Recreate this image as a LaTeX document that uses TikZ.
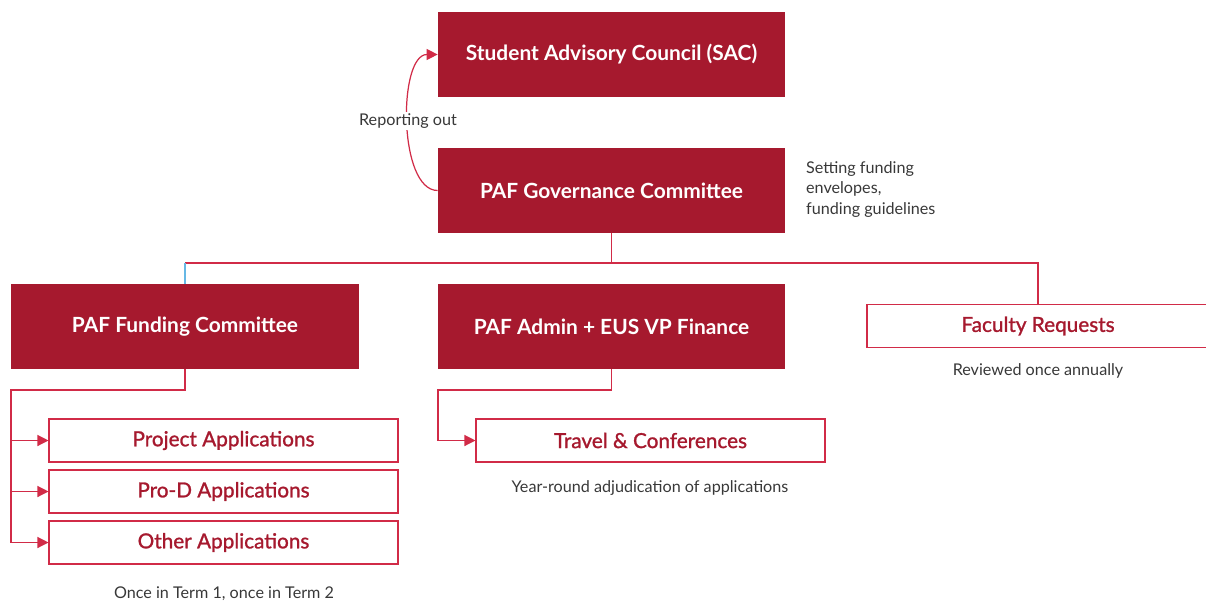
\documentclass[tikz,border=0pt]{standalone}
\usepackage{fontspec}
\setmainfont{Lato}
\newfontfamily\latomed[FakeBold=1.2]{Lato}
\usepackage{tikz}
\usetikzlibrary{arrows.meta}

\begin{document}
\begin{tikzpicture}[
	fullbox/.style={minimum width=6.94cm,minimum height=1.70cm,fill=cbox,draw=none,text=white,font=\bfseries\fontsize{11.9}{14}\selectfont,inner sep=0pt},
	linebox/.style={minimum width=6.98cm,minimum height=0.86cm,fill=white,draw=cline,line width=0.6pt,text=cbox,font=\latomed\fontsize{11.8}{14}\selectfont,inner sep=0pt},
	note/.style={text=cnote,font=\fontsize{9.2}{11.9}\selectfont,inner sep=1pt},
	link/.style={draw=cline,line width=0.7pt},
	tip/.style={-{Triangle[length=2.2mm,width=2.2mm]}}
	]
			\definecolor{cbox}{rgb}{0.65,0.10,0.18}
			\definecolor{cline}{rgb}{0.82,0.17,0.28}
			\definecolor{cnote}{rgb}{0.22,0.22,0.22}
			\definecolor{cblue}{rgb}{0.40,0.72,0.90}
			%
			\useasboundingbox (0,0) rectangle (24.12,-12.06);
			%
			\node[fullbox] (sac) at (12.23cm,-1.09cm) {Student Advisory Council (SAC)};
			\node[fullbox] (gov) at (12.23cm,-3.81cm) {PAF Governance Committee};
			\node[fullbox] (fund) at (3.70cm,-6.53cm) {PAF Funding Committee};
			\node[fullbox] (adm) at (12.23cm,-6.53cm) {PAF Admin + EUS VP Finance};
			\node[linebox,minimum width=6.84cm] (fac) at (20.76cm,-6.52cm) {Faculty Requests};
			\node[linebox] (proj) at (4.47cm,-8.81cm) {Project Applications};
			\node[linebox] (prod) at (4.47cm,-9.83cm) {Pro-D Applications};
			\node[linebox] (oth) at (4.47cm,-10.85cm) {Other Applications};
			\node[linebox] (trav) at (13.01cm,-8.81cm) {Travel \& Conferences};
			%
			\node[note,anchor=west,align=left] (env) at (16.08cm,-3.79cm) {Setting funding\\envelopes,\\funding guidelines};
			\node[note] (fnote) at (20.76cm,-7.42cm) {Reviewed once annually};
			\node[note] (tnote) at (13.00cm,-9.76cm) {Year-round adjudication of applications};
			\node[note] (anote) at (4.48cm,-11.88cm) {Once in Term 1, once in Term 2};
			%
			\coordinate (bus) at (12.23cm,-5.26cm);
			\coordinate (fbend) at (0.22cm,-7.80cm);
			\coordinate (abend) at (8.76cm,-7.80cm);
			%
			\draw[link,tip] (gov.west) .. controls (7.96cm,-3.81cm) and (7.96cm,-1.09cm) .. (sac.west);
			\node[note,fill=white] (rep) at (8.16cm,-2.42cm) {Reporting out};
			%
			\draw[link] (gov.south) -- (bus);
			\draw[link] (bus) -| (fac.north);
			\draw[link] (bus) -- (fund.north |- bus);
			\draw[draw=cblue,line width=0.7pt] (fund.north |- bus) -- (fund.north);
			%
			\draw[link,tip] (fund.south) |- (fbend) |- (oth.west);
			\draw[link,tip] (fbend |- proj.west) -- (proj.west);
			\draw[link,tip] (fbend |- prod.west) -- (prod.west);
			\draw[link,tip] (adm.south) |- (abend) |- (trav.west);
			%
		\end{tikzpicture}
\end{document}
